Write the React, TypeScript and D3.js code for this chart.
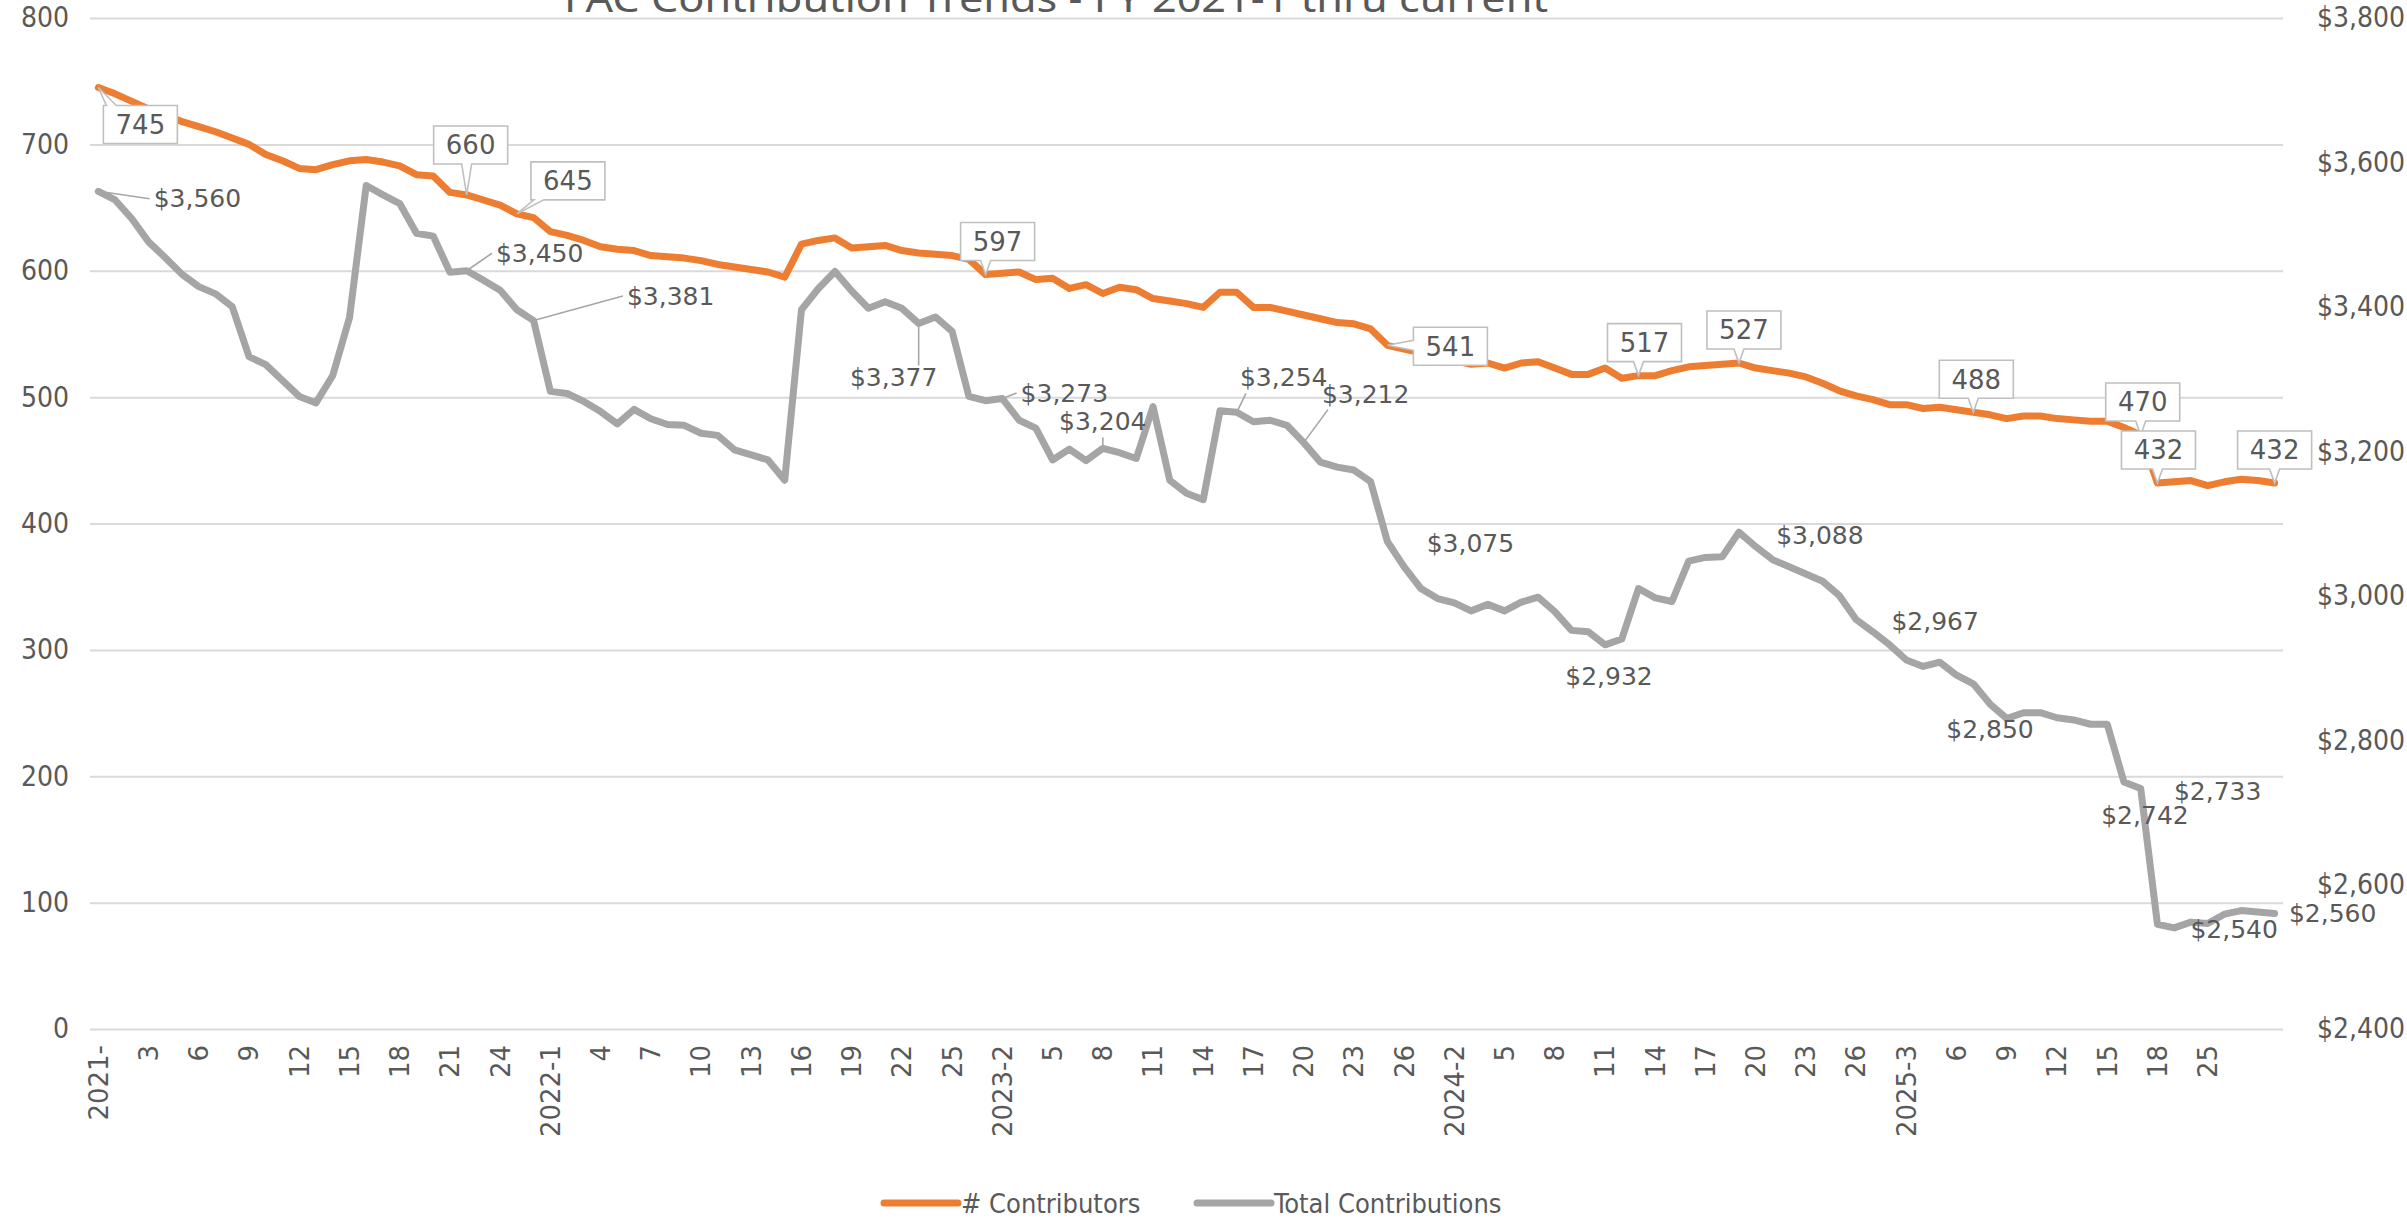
import React, { useEffect, useRef } from 'react';
import * as d3 from 'd3';

const WIDTH = 2407;
const HEIGHT = 1218;

// # Contributors, one value per pay period
const contributors = [
  745, 740, 734, 728, 723, 718, 714, 710, 705, 700,
  692, 687, 681, 680, 684, 687, 688, 686, 683, 676,
  675, 662, 660, 656, 652, 645, 642, 631, 628, 624,
  619, 617, 616, 612, 611, 610, 608, 605, 603, 601,
  599, 595, 621, 624, 626, 618, 619, 620, 616, 614,
  613, 612, 609, 597, 598, 599, 593, 594, 586, 589,
  582, 587, 585, 578, 576, 574, 571, 583, 583, 571,
  571, 568, 565, 562, 559, 558, 554, 541, 538, 535,
  532, 529, 526, 527, 523, 527, 528, 523, 518, 518,
  523, 515, 517, 517, 521, 524, 525, 526, 527, 523,
  521, 519, 516, 511, 505, 501, 498, 494, 494, 491,
  492, 490, 488, 486, 483, 485, 485, 483, 482, 481,
  481, 476, 470, 432, 433, 434, 430, 433, 435, 434,
  432,
];

// Total Contributions ($), same periods
const contributions = [
  3560, 3548, 3522, 3490, 3468, 3445, 3428, 3418, 3400, 3331,
  3320, 3298, 3276, 3267, 3305, 3385, 3568, 3555, 3543, 3502,
  3498, 3448, 3450, 3437, 3423, 3396, 3381, 3283, 3280, 3269,
  3255, 3238, 3258, 3245, 3237, 3236, 3225, 3222, 3202, 3195,
  3188, 3160, 3396, 3425, 3449, 3422, 3398, 3407, 3398, 3377,
  3386, 3366, 3276, 3270, 3273, 3243, 3232, 3188, 3203, 3187,
  3204, 3198, 3190, 3262, 3160, 3142, 3133, 3256, 3254, 3241,
  3243, 3236, 3212, 3185, 3178, 3174, 3158, 3075, 3040, 3010,
  2996, 2990, 2979, 2988, 2979, 2991, 2998, 2978, 2952, 2950,
  2932, 2940, 3010, 2997, 2992, 3048, 3053, 3054, 3088, 3068,
  3050, 3040, 3030, 3020, 3000, 2967, 2950, 2932, 2911, 2902,
  2908, 2890, 2878, 2850, 2830, 2838, 2838, 2831, 2828, 2822,
  2822, 2742, 2733, 2545, 2540, 2548, 2546, 2559, 2564, 2562,
  2560,
];

// shown on every third period
const tickLabels = [
  '2021-', '3', '6', '9', '12', '15', '18', '21', '24',
  '2022-1', '4', '7', '10', '13', '16', '19', '22', '25',
  '2023-2', '5', '8', '11', '14', '17', '20', '23', '26',
  '2024-2', '5', '8', '11', '14', '17', '20', '23', '26',
  '2025-3', '6', '9', '12', '15', '18', '25',
];

const leftTicks = [0, 100, 200, 300, 400, 500, 600, 700, 800];
const rightTicks = [2400, 2600, 2800, 3000, 3200, 3400, 3600, 3800];

// labelled points and where their label sits (offset from the point, px)
const contributorCallouts = [
  { i: 0, dx: 42, dy: 37 },
  { i: 22, dx: 4, dy: -50 },
  { i: 25, dx: 51, dy: -33 },
  { i: 53, dx: 12, dy: -33 },
  { i: 77, dx: 63, dy: 1 },
  { i: 92, dx: 6, dy: -33 },
  { i: 98, dx: 5, dy: -33 },
  { i: 112, dx: 3, dy: -33 },
  { i: 122, dx: 2, dy: -33 },
  { i: 123, dx: 1, dy: -33 },
  { i: 130, dx: 0, dy: -33 },
];

const contributionLabels = [
  { i: 0, dx: 99, dy: 7, leader: true },
  { i: 22, dx: 73, dy: -18, leader: true },
  { i: 26, dx: 137, dy: -25, leader: true },
  { i: 49, dx: -25, dy: 54, leader: true },
  { i: 54, dx: 62, dy: -6, leader: true },
  { i: 60, dx: 0, dy: -27, leader: true },
  { i: 68, dx: 47, dy: -35, leader: true },
  { i: 72, dx: 62, dy: -49, leader: true },
  { i: 77, dx: 83, dy: 1 },
  { i: 90, dx: 4, dy: 31 },
  { i: 98, dx: 81, dy: 3 },
  { i: 105, dx: 79, dy: 1 },
  { i: 113, dx: 0, dy: 25 },
  { i: 121, dx: 21, dy: 33 },
  { i: 122, dx: 77, dy: 2 },
  { i: 124, dx: 60, dy: 1 },
  { i: 130, dx: 58, dy: 0 },
];

const ORANGE = '#ED7D31';
const GREY = '#A5A5A5';
const TEXT = '#595959';
const GRID = '#D9D9D9';
const NARROW = '"Liberation Sans Narrow", "DejaVu Sans Condensed", sans-serif';
const LABEL_FONT = '"DejaVu Sans", sans-serif';

const margin = { top: 18, right: 124, bottom: 189, left: 90 };

// box with a wedge pointing at (tx, ty)
function calloutPath(cx, cy, w, h, tx, ty) {
  const x0 = cx - w / 2, x1 = cx + w / 2, y0 = cy - h / 2, y1 = cy + h / 2;
  const half = 5;
  const rx = (tx - cx) / (w / 2);
  const ry = (ty - cy) / (h / 2);
  const clampX = v => Math.max(x0 + half + 3, Math.min(x1 - half - 3, v));
  const clampY = v => Math.max(y0 + half + 3, Math.min(y1 - half - 3, v));
  let top = `M${x0},${y0}H${x1}`;
  let right = `V${y1}`;
  let bottom = `H${x0}`;
  let left = 'Z';
  if (Math.abs(ry) >= Math.abs(rx)) {
    const b = clampX(tx);
    if (ry < 0) top = `M${x0},${y0}H${b - half}L${tx},${ty}L${b + half},${y0}H${x1}`;
    else bottom = `H${b + half}L${tx},${ty}L${b - half},${y1}H${x0}`;
  } else {
    const b = clampY(ty);
    if (rx > 0) right = `V${b - half}L${tx},${ty}L${x1},${b + half}V${y1}`;
    else left = `V${b + half}L${tx},${ty}L${x0},${b - half}Z`;
  }
  return top + right + bottom + left;
}

const App = () => {
  const svgRef = useRef(null);

  useEffect(() => {
    const svg = d3.select(svgRef.current);
    svg.selectAll('*').remove();

    const plotLeft = margin.left;
    const plotRight = WIDTH - margin.right;
    const plotTop = margin.top;
    const plotBottom = HEIGHT - margin.bottom;

    const periods = contributors.map((_, i) => i);

    const x = d3.scaleBand().domain(periods).range([plotLeft, plotRight]);
    const cx = i => x(i) + x.bandwidth() / 2;
    const yLeft = d3.scaleLinear().domain([0, 800]).range([plotBottom, plotTop]);
    const yRight = d3.scaleLinear().domain([2400, 3800]).range([plotBottom, plotTop]);

    svg.append('rect').attr('width', WIDTH).attr('height', HEIGHT).attr('fill', '#fff');

    // title (its top is cut by the picture edge in the original)
    svg.append('text')
      .attr('x', 1056)
      .attr('y', 12)
      .attr('text-anchor', 'middle')
      .attr('textLength', 984)
      .attr('lengthAdjust', 'spacingAndGlyphs')
      .style('font-family', '"Noto Sans", sans-serif')
      .style('font-size', '38px')
      .style('fill', TEXT)
      .text('FAC Contribution Trends - FY 2021-1 thru current');

    // left axis + gridlines
    const gLeft = svg.append('g')
      .attr('transform', `translate(${plotLeft},0)`)
      .call(d3.axisLeft(yLeft).tickValues(leftTicks).tickSize(-(plotRight - plotLeft)).tickPadding(21));
    gLeft.select('.domain').remove();
    gLeft.selectAll('.tick line').attr('stroke', GRID).attr('stroke-width', 2);
    gLeft.selectAll('.tick text')
      .style('font-family', NARROW)
      .style('font-size', '28px')
      .style('fill', TEXT);

    // right axis
    const gRight = svg.append('g')
      .attr('transform', `translate(${plotRight},0)`)
      .call(d3.axisRight(yRight).tickValues(rightTicks).tickSize(0).tickPadding(34)
        .tickFormat(d => '$' + d3.format(',')(d)));
    gRight.select('.domain').remove();
    gRight.selectAll('.tick text')
      .style('font-family', NARROW)
      .style('font-size', '28px')
      .style('fill', TEXT);

    // category axis, rotated labels
    const gX = svg.append('g')
      .attr('transform', `translate(0,${plotBottom})`)
      .call(d3.axisBottom(x)
        .tickValues(periods.filter(i => i % 3 === 0 && tickLabels[i / 3] !== undefined))
        .tickSize(0)
        .tickFormat(i => tickLabels[i / 3]));
    gX.select('.domain').remove();
    gX.selectAll('.tick text')
      .attr('transform', 'rotate(-90)')
      .attr('text-anchor', 'end')
      .attr('x', -16)
      .attr('y', 0)
      .attr('dy', '0.36em')
      .style('font-family', LABEL_FONT)
      .style('font-size', '26px')
      .style('fill', TEXT);

    // leader lines go under the series
    const gLeaders = svg.append('g');

    const lineLeft = d3.line().x((d, i) => cx(i)).y(d => yLeft(d));
    const lineRight = d3.line().x((d, i) => cx(i)).y(d => yRight(d));

    svg.append('path')
      .datum(contributions)
      .attr('d', lineRight)
      .attr('fill', 'none')
      .attr('stroke', GREY)
      .attr('stroke-width', 7)
      .attr('stroke-linejoin', 'round')
      .attr('stroke-linecap', 'round');

    svg.append('path')
      .datum(contributors)
      .attr('d', lineLeft)
      .attr('fill', 'none')
      .attr('stroke', ORANGE)
      .attr('stroke-width', 7)
      .attr('stroke-linejoin', 'round')
      .attr('stroke-linecap', 'round');

    // Total Contributions labels
    const gGrey = svg.append('g');
    contributionLabels.forEach(l => {
      const px = cx(l.i);
      const py = yRight(contributions[l.i]);
      const t = gGrey.append('text')
        .attr('x', px + l.dx)
        .attr('y', py + l.dy)
        .attr('text-anchor', 'middle')
        .attr('dy', '0.36em')
        .style('font-family', LABEL_FONT)
        .style('font-size', '25px')
        .style('fill', TEXT)
        .text('$' + d3.format(',')(contributions[l.i]));
      if (l.leader) {
        const b = t.node().getBBox();
        const bx = b.x + b.width / 2;
        const by = b.y + b.height / 2;
        const rx = (px - bx) / (b.width / 2);
        const ry = (py - by) / (b.height / 2);
        let ax, ay;
        if (Math.abs(rx) >= Math.abs(ry)) {
          ax = rx < 0 ? b.x - 4 : b.x + b.width + 4;
          ay = by;
        } else {
          ax = Math.max(b.x + 6, Math.min(b.x + b.width - 6, px));
          ay = ry < 0 ? b.y + 2 : b.y + b.height + 1;
        }
        gLeaders.append('line')
          .attr('x1', ax).attr('y1', ay)
          .attr('x2', px).attr('y2', py)
          .attr('stroke', '#A6A6A6')
          .attr('stroke-width', 1.6);
      }
    });

    // # Contributors callouts
    const boxW = 74;
    const boxH = 38;
    const gOrange = svg.append('g');
    contributorCallouts.forEach(c => {
      const px = cx(c.i);
      const py = yLeft(contributors[c.i]);
      const bx = px + c.dx;
      const by = py + c.dy;
      gOrange.append('path')
        .attr('d', calloutPath(bx, by, boxW, boxH, px, py))
        .attr('fill', '#fff')
        .attr('stroke', '#BFBFBF')
        .attr('stroke-width', 1.6);
      gOrange.append('text')
        .attr('x', bx)
        .attr('y', by)
        .attr('dy', '0.36em')
        .attr('text-anchor', 'middle')
        .style('font-family', LABEL_FONT)
        .style('font-size', '26px')
        .style('fill', TEXT)
        .text(contributors[c.i]);
    });

    // legend
    const legend = svg.append('g').attr('transform', 'translate(0,1203)');
    const items = [
      { name: '# Contributors', color: ORANGE, x: 884 },
      { name: 'Total Contributions', color: GREY, x: 1197 },
    ];
    items.forEach(it => {
      legend.append('line')
        .attr('x1', it.x).attr('x2', it.x + 74)
        .attr('y1', 0).attr('y2', 0)
        .attr('stroke', it.color)
        .attr('stroke-width', 7)
        .attr('stroke-linecap', 'round');
      legend.append('text')
        .attr('x', it.x + 77)
        .attr('y', 0)
        .attr('dy', '0.36em')
        .style('font-family', NARROW)
        .style('font-size', '27px')
        .style('fill', TEXT)
        .text(it.name);
    });
  }, []);

  return (
    <div style={{ position: 'absolute', left: 0, top: 0, width: WIDTH, height: HEIGHT, overflow: 'hidden' }}>
      <svg ref={svgRef} width={WIDTH} height={HEIGHT} />
    </div>
  );
};

export default App;
